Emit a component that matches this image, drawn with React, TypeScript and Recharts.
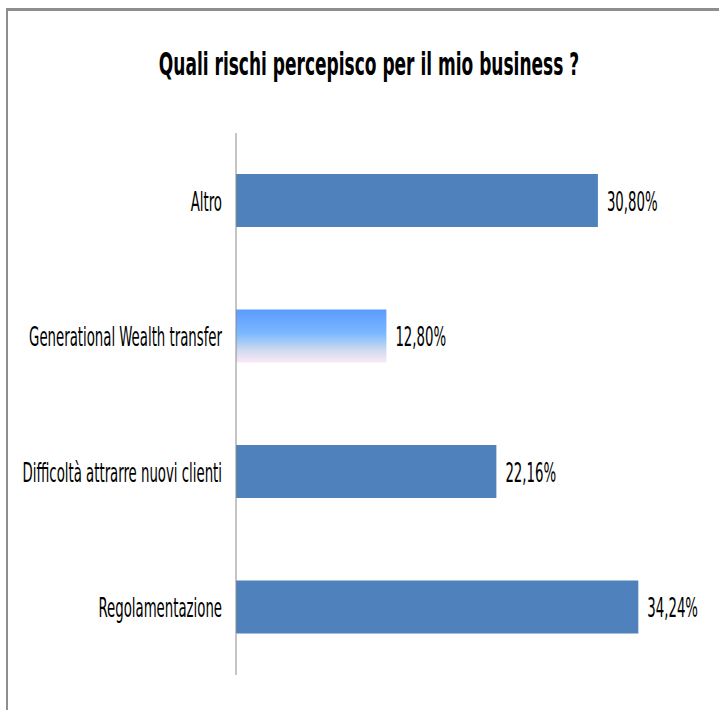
import React from 'react'
import { BarChart, Bar, XAxis, YAxis, Cell, LabelList, Customized } from 'recharts'

// Survey answers, top to bottom
const categories = [
  'Altro',
  'Generational Wealth transfer',
  'Difficoltà attrarre nuovi clienti',
  'Regolamentazione',
]
const values = [30.8, 12.8, 22.16, 34.24]

const title = 'Quali rischi percepisco per il mio business ?'

const data = categories.map((name, i) => ({ name, value: values[i] }))

const FONT = '"Liberation Sans Narrow", "DejaVu Sans Condensed", sans-serif'
// the original text is narrow and tall, so squeeze it
const SX = 0.87
const SY = 1.6

const fmt = (v: number) => v.toFixed(2).replace('.', ',') + '%'

const CategoryTick = ({ x, y, payload }: any) => (
  <g transform={`translate(${x},${y + 10})`}>
    <text transform={`scale(${SX},${SY})`} textAnchor="end" fontFamily={FONT} fontSize={17} fill="#000">
      {payload.value}
    </text>
  </g>
)

const ValueLabel = ({ x, y, width, height, value }: any) => (
  <g transform={`translate(${x + width + 9},${y + height / 2 + 10})`}>
    <text transform={`scale(${SX},${SY})`} fontFamily={FONT} fontSize={17} fill="#000">
      {fmt(value)}
    </text>
  </g>
)

const Title = () => (
  <g transform="translate(369,75)">
    <text
      transform="scale(0.86,1.45)"
      textAnchor="middle"
      fontFamily={FONT}
      fontWeight="bold"
      fontSize={22}
      fill="#000"
    >
      {title}
    </text>
  </g>
)

export default function App() {
  return (
    <div style={{ position: 'absolute', left: 0, top: 0, width: 719, height: 710, background: '#fff', overflow: 'hidden' }}>
      <div
        style={{
          position: 'absolute',
          left: 6,
          top: 8,
          width: 760,
          height: 760,
          borderTop: '3px solid #8e8e8e',
          borderLeft: '2px solid #8e8e8e',
        }}
      />
      <div style={{ position: 'absolute', left: 0, top: 0 }}>
        <BarChart
          width={719}
          height={710}
          data={data}
          layout="vertical"
          margin={{ top: 133, right: 13, bottom: 35, left: 0 }}
        >
          <defs>
            <linearGradient id="gwGrad" x1="0" y1="0" x2="0" y2="1">
              <stop offset="0%" stopColor="#5b9bff" />
              <stop offset="45%" stopColor="#7ab8ff" />
              <stop offset="75%" stopColor="#c9d9ee" />
              <stop offset="100%" stopColor="#fde8f6" />
            </linearGradient>
          </defs>
          <Customized component={Title} />
          <XAxis type="number" domain={[0, 40]} hide />
          <YAxis
            type="category"
            dataKey="name"
            width={236}
            axisLine={{ stroke: '#8a8a8a' }}
            tickLine={false}
            tick={<CategoryTick />}
            tickMargin={8}
          />
          <Bar dataKey="value" barSize={53} isAnimationActive={false}>
            {data.map((d, i) => (
              <Cell key={d.name} fill={i === 1 ? 'url(#gwGrad)' : '#4f81bd'} />
            ))}
            <LabelList dataKey="value" content={<ValueLabel />} />
          </Bar>
        </BarChart>
      </div>
    </div>
  )
}
